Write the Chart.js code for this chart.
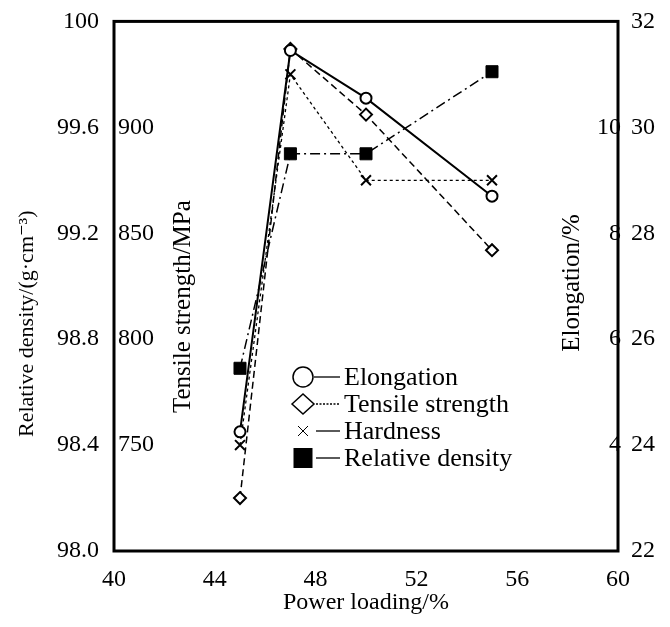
<!DOCTYPE html>
<html><head><meta charset="utf-8">
<script src="https://cdn.jsdelivr.net/npm/chart.js@4.4.0/dist/chart.umd.min.js"></script>
<style>html,body{margin:0;padding:0;background:#fff;}</style>
</head><body>
<canvas id="c" width="670" height="627"></canvas>
<script>
// ---- data ----
const powerLoading = [45, 47, 50, 55];
const elongation = [4.25, 11.45, 10.55, 8.7];
const tensileStrength = [725, 937, 906, 842];
const hardness = [24.0, 31.0, 29.0, 29.0];
const relativeDensity = [98.69, 99.5, 99.5, 99.81];

const xTicks = [40, 44, 48, 52, 56, 60];
const densityTicks = [98.0, 98.4, 98.8, 99.2, 99.6, 100];
const tensileTicks = [750, 800, 850, 900];
const elongationTicks = [4, 6, 8, 10];
const hardnessTicks = [22, 24, 26, 28, 30, 32];

const seriesNames = ['Elongation', 'Tensile strength', 'Hardness', 'Relative density'];

const SERIF = "'Liberation Serif', 'DejaVu Serif', serif";
Chart.defaults.font.family = SERIF;
Chart.defaults.color = '#000';

const pts = ys => powerLoading.map((x, i) => ({x: x, y: ys[i]}));
const setTicks = arr => (s => { s.ticks = arr.map(v => ({value: v})); });

const framePlugin = {
  id: 'frame',
  beforeDatasetsDraw(chart) {
    const {ctx, chartArea: a} = chart;
    ctx.save();
    ctx.strokeStyle = '#000';
    ctx.lineWidth = 3;
    ctx.strokeRect(a.left, a.top, a.right - a.left, a.bottom - a.top);
    ctx.restore();
  },
  afterDraw(chart) {
    const {ctx} = chart;
    ctx.save();
    ctx.fillStyle = '#000';
    ctx.strokeStyle = '#000';
    const vtext = (txt, x, y, size, align) => {
      ctx.save();
      ctx.translate(x, y);
      ctx.rotate(-Math.PI / 2);
      ctx.font = size + 'px ' + SERIF;
      ctx.textAlign = align;
      ctx.textBaseline = 'middle';
      ctx.fillText(txt, 0, 0);
      ctx.restore();
    };
    vtext('Relative density/(g·cm⁻³)', 27, 437, 22, 'left');
    vtext('Tensile strength/MPa', 183, 413, 25, 'left');
    vtext('Elongation/%', 572, 283, 25, 'center');

    // legend
    const rows = [377, 404, 431, 458];
    const mx = 303;
    ctx.font = '26px ' + SERIF;
    ctx.textAlign = 'left';
    ctx.textBaseline = 'middle';
    rows.forEach((y, i) => {
      ctx.save();
      ctx.lineWidth = 1.5;
      ctx.beginPath();
      if (i === 0) {
        ctx.arc(mx, y, 10, 0, Math.PI * 2);
        ctx.stroke();
      } else if (i === 1) {
        ctx.moveTo(mx - 11, y); ctx.lineTo(mx, y - 10); ctx.lineTo(mx + 11, y); ctx.lineTo(mx, y + 10); ctx.closePath();
        ctx.stroke();
      } else if (i === 2) {
        ctx.lineWidth = 1;
        ctx.moveTo(mx - 5, y - 5); ctx.lineTo(mx + 5, y + 5);
        ctx.moveTo(mx + 5, y - 5); ctx.lineTo(mx - 5, y + 5);
        ctx.stroke();
      } else {
        ctx.fillRect(mx - 9.5, y - 10, 19, 20);
      }
      ctx.beginPath();
      ctx.lineWidth = 1.3;
      if (i === 1) ctx.setLineDash([2, 1.5]);
      ctx.moveTo(i === 0 ? 314 : 316, y);
      ctx.lineTo(340, y);
      ctx.stroke();
      ctx.restore();
      ctx.fillText(seriesNames[i], 344, y + 1);
    });
    ctx.restore();
  }
};

new Chart(document.getElementById('c'), {
  type: 'line',
  data: {
    datasets: [
      {label: seriesNames[0], data: pts(elongation), yAxisID: 'yElong',
       borderColor: '#000', borderWidth: 2, pointStyle: 'circle', pointRadius: 5.5,
       pointBorderWidth: 2, pointBackgroundColor: '#fff', pointBorderColor: '#000', tension: 0},
      {label: seriesNames[1], data: pts(tensileStrength), yAxisID: 'yTen',
       borderColor: '#000', borderWidth: 1.5, borderDash: [7, 4], pointStyle: 'rectRot', pointRadius: 6,
       pointBorderWidth: 2, pointBackgroundColor: '#fff', pointBorderColor: '#000', tension: 0},
      {label: seriesNames[2], data: pts(hardness), yAxisID: 'yHard',
       borderColor: '#000', borderWidth: 1.3, borderDash: [3, 3], pointStyle: 'crossRot', pointRadius: 7,
       pointBorderWidth: 2, pointBackgroundColor: '#000', pointBorderColor: '#000', tension: 0},
      {label: seriesNames[3], data: pts(relativeDensity), yAxisID: 'yDen',
       borderColor: '#000', borderWidth: 1.5, borderDash: [10, 4, 2, 4], pointStyle: 'rect', pointRadius: 8.5,
       pointBorderWidth: 1, pointBackgroundColor: '#000', pointBorderColor: '#000', tension: 0}
    ]
  },
  options: {
    responsive: false,
    animation: false,
    devicePixelRatio: 1,
    layout: {padding: {top: 21, left: 0, right: 0, bottom: 0}},
    plugins: {legend: {display: false}, tooltip: {enabled: false}},
    scales: {
      x: {
        type: 'linear', position: 'bottom', min: 40, max: 60,
        grid: {display: false}, border: {display: false},
        afterBuildTicks: setTicks(xTicks),
        ticks: {font: {size: 24}, padding: 6, color: '#000', maxRotation: 0, autoSkip: false},
        title: {display: true, text: 'Power loading/%', font: {size: 24}, color: '#000', padding: {top: 0, bottom: 10}},
        afterFit: s => { s.height = 76; }
      },
      yDen: {
        type: 'linear', position: 'left', weight: 2, min: 98, max: 100,
        grid: {display: false}, border: {display: false},
        afterBuildTicks: setTicks(densityTicks),
        ticks: {font: {size: 24}, padding: 7, color: '#000',
                callback: v => (v === 100 ? '100' : v.toFixed(1))},
        afterFit: s => { s.width = 114; }
      },
      yTen: {
        type: 'linear', position: 'left', weight: 0, min: 700, max: 950,
        grid: {display: false}, border: {display: false},
        afterBuildTicks: setTicks(tensileTicks),
        ticks: {font: {size: 24}, padding: 4, mirror: true, color: '#000'},
        afterFit: s => { s.width = 0; }
      },
      yElong: {
        type: 'linear', position: 'right', weight: 0, min: 2, max: 12,
        grid: {display: false}, border: {display: false},
        afterBuildTicks: setTicks(elongationTicks),
        ticks: {font: {size: 24}, padding: 3, mirror: true, color: '#000'},
        afterFit: s => { s.width = 0; }
      },
      yHard: {
        type: 'linear', position: 'right', weight: 2, min: 22, max: 32,
        grid: {display: false}, border: {display: false},
        afterBuildTicks: setTicks(hardnessTicks),
        ticks: {font: {size: 24}, padding: 5, color: '#000'},
        afterFit: s => { s.width = 52; }
      }
    }
  },
  plugins: [framePlugin]
});
</script>
</body></html>
